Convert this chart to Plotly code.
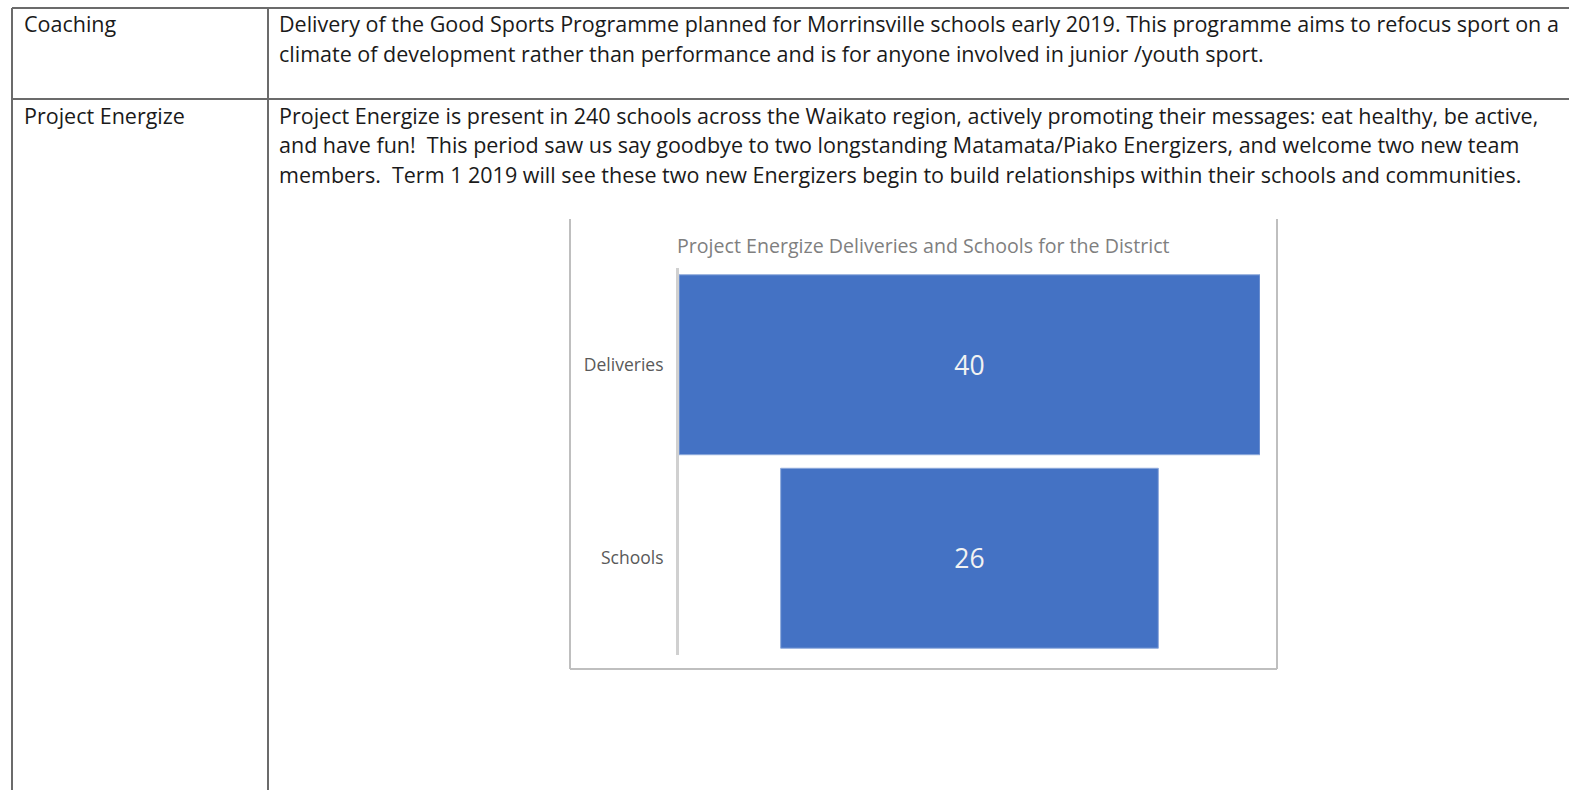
import plotly.graph_objects as go

W, H = 1569, 790

# Data
categories = ["Deliveries", "Schools"]
values = [40, 26]
chart_title = "Project Energize Deliveries and Schools for the District"

row_labels = ["Coaching", "Project Energize"]
row_texts = [
    ["Delivery of the Good Sports Programme planned for Morrinsville schools early 2019. This programme aims to refocus sport on a",
     "climate of development rather than performance and is for anyone involved in junior /youth sport."],
    ["Project Energize is present in 240 schools across the Waikato region, actively promoting their messages: eat healthy, be active,",
     "and have fun!\u00a0 This period saw us say goodbye to two longstanding Matamata/Piako Energizers, and welcome two new team",
     "members.\u00a0 Term 1 2019 will see these two new Energizers begin to build relationships within their schools and communities."],
]

FONT = "Open Sans"


def px(x):
    return x / W


def py(y):
    return 1 - y / H


fig = go.Figure()
fig.add_trace(go.Funnel(
    y=categories,
    x=values,
    textinfo="value",
    textposition="inside",
    textfont=dict(color="#F2F2F2", size=26.5, family=FONT),
    marker=dict(color="#4472C4", line=dict(color="#8EA9DB", width=1)),
    connector=dict(visible=False),
    hoverinfo="skip",
))

shapes = []
table_line = dict(color="#6b6b6b", width=2)
frame_line = dict(color="#BFBFBF", width=2)
for (x0, y0, x1, y1, ln) in [
    (12, 8, 1569, 8, table_line),
    (12, 99, 1569, 99, table_line),
    (12, 8, 12, 790, table_line),
    (268, 8, 268, 790, table_line),
    (570, 219, 570, 669, frame_line),
    (570, 669, 1277, 669, frame_line),
    (1277, 219, 1277, 669, frame_line),
]:
    shapes.append(dict(type="line", xref="paper", yref="paper",
                       x0=px(x0), y0=py(y0), x1=px(x1), y1=py(y1), line=ln))

BODY = 21.5
annotations = []
row_y = [23, 115]
for i, lab in enumerate(row_labels):
    annotations.append(dict(text=lab, x=px(22), y=py(row_y[i]), xref="paper", yref="paper",
                            xanchor="left", yanchor="middle", showarrow=False,
                            font=dict(family=FONT, size=BODY, color="#1a1a1a")))
    for j, line in enumerate(row_texts[i]):
        annotations.append(dict(text=line, x=px(277), y=py(row_y[i] + 30 * j), xref="paper", yref="paper",
                                xanchor="left", yanchor="middle", showarrow=False,
                                font=dict(family=FONT, size=BODY, color="#1a1a1a")))

annotations.append(dict(text=chart_title, x=px(675), y=py(245), xref="paper", yref="paper",
                        xanchor="left", yanchor="middle", showarrow=False,
                        font=dict(family=FONT, size=19.6, color="#7F7F7F")))

fig.update_layout(
    width=W, height=H,
    margin=dict(l=0, r=0, t=0, b=0),
    paper_bgcolor="white",
    plot_bgcolor="rgba(0,0,0,0)",
    showlegend=False,
    funnelgap=0.07,
    xaxis=dict(domain=[px(679), px(1260)], range=[-20, 20], visible=False, fixedrange=True),
    yaxis=dict(domain=[py(655), py(268)], range=[1.5, -0.5], showline=True,
               linecolor="#D0D0D0", linewidth=3, ticks="", showgrid=False,
               tickfont=dict(family=FONT, size=17.5, color="#595959"),
               ticklabelstandoff=9, fixedrange=True),
    shapes=shapes,
    annotations=annotations,
)

fig.write_html("out.html")
